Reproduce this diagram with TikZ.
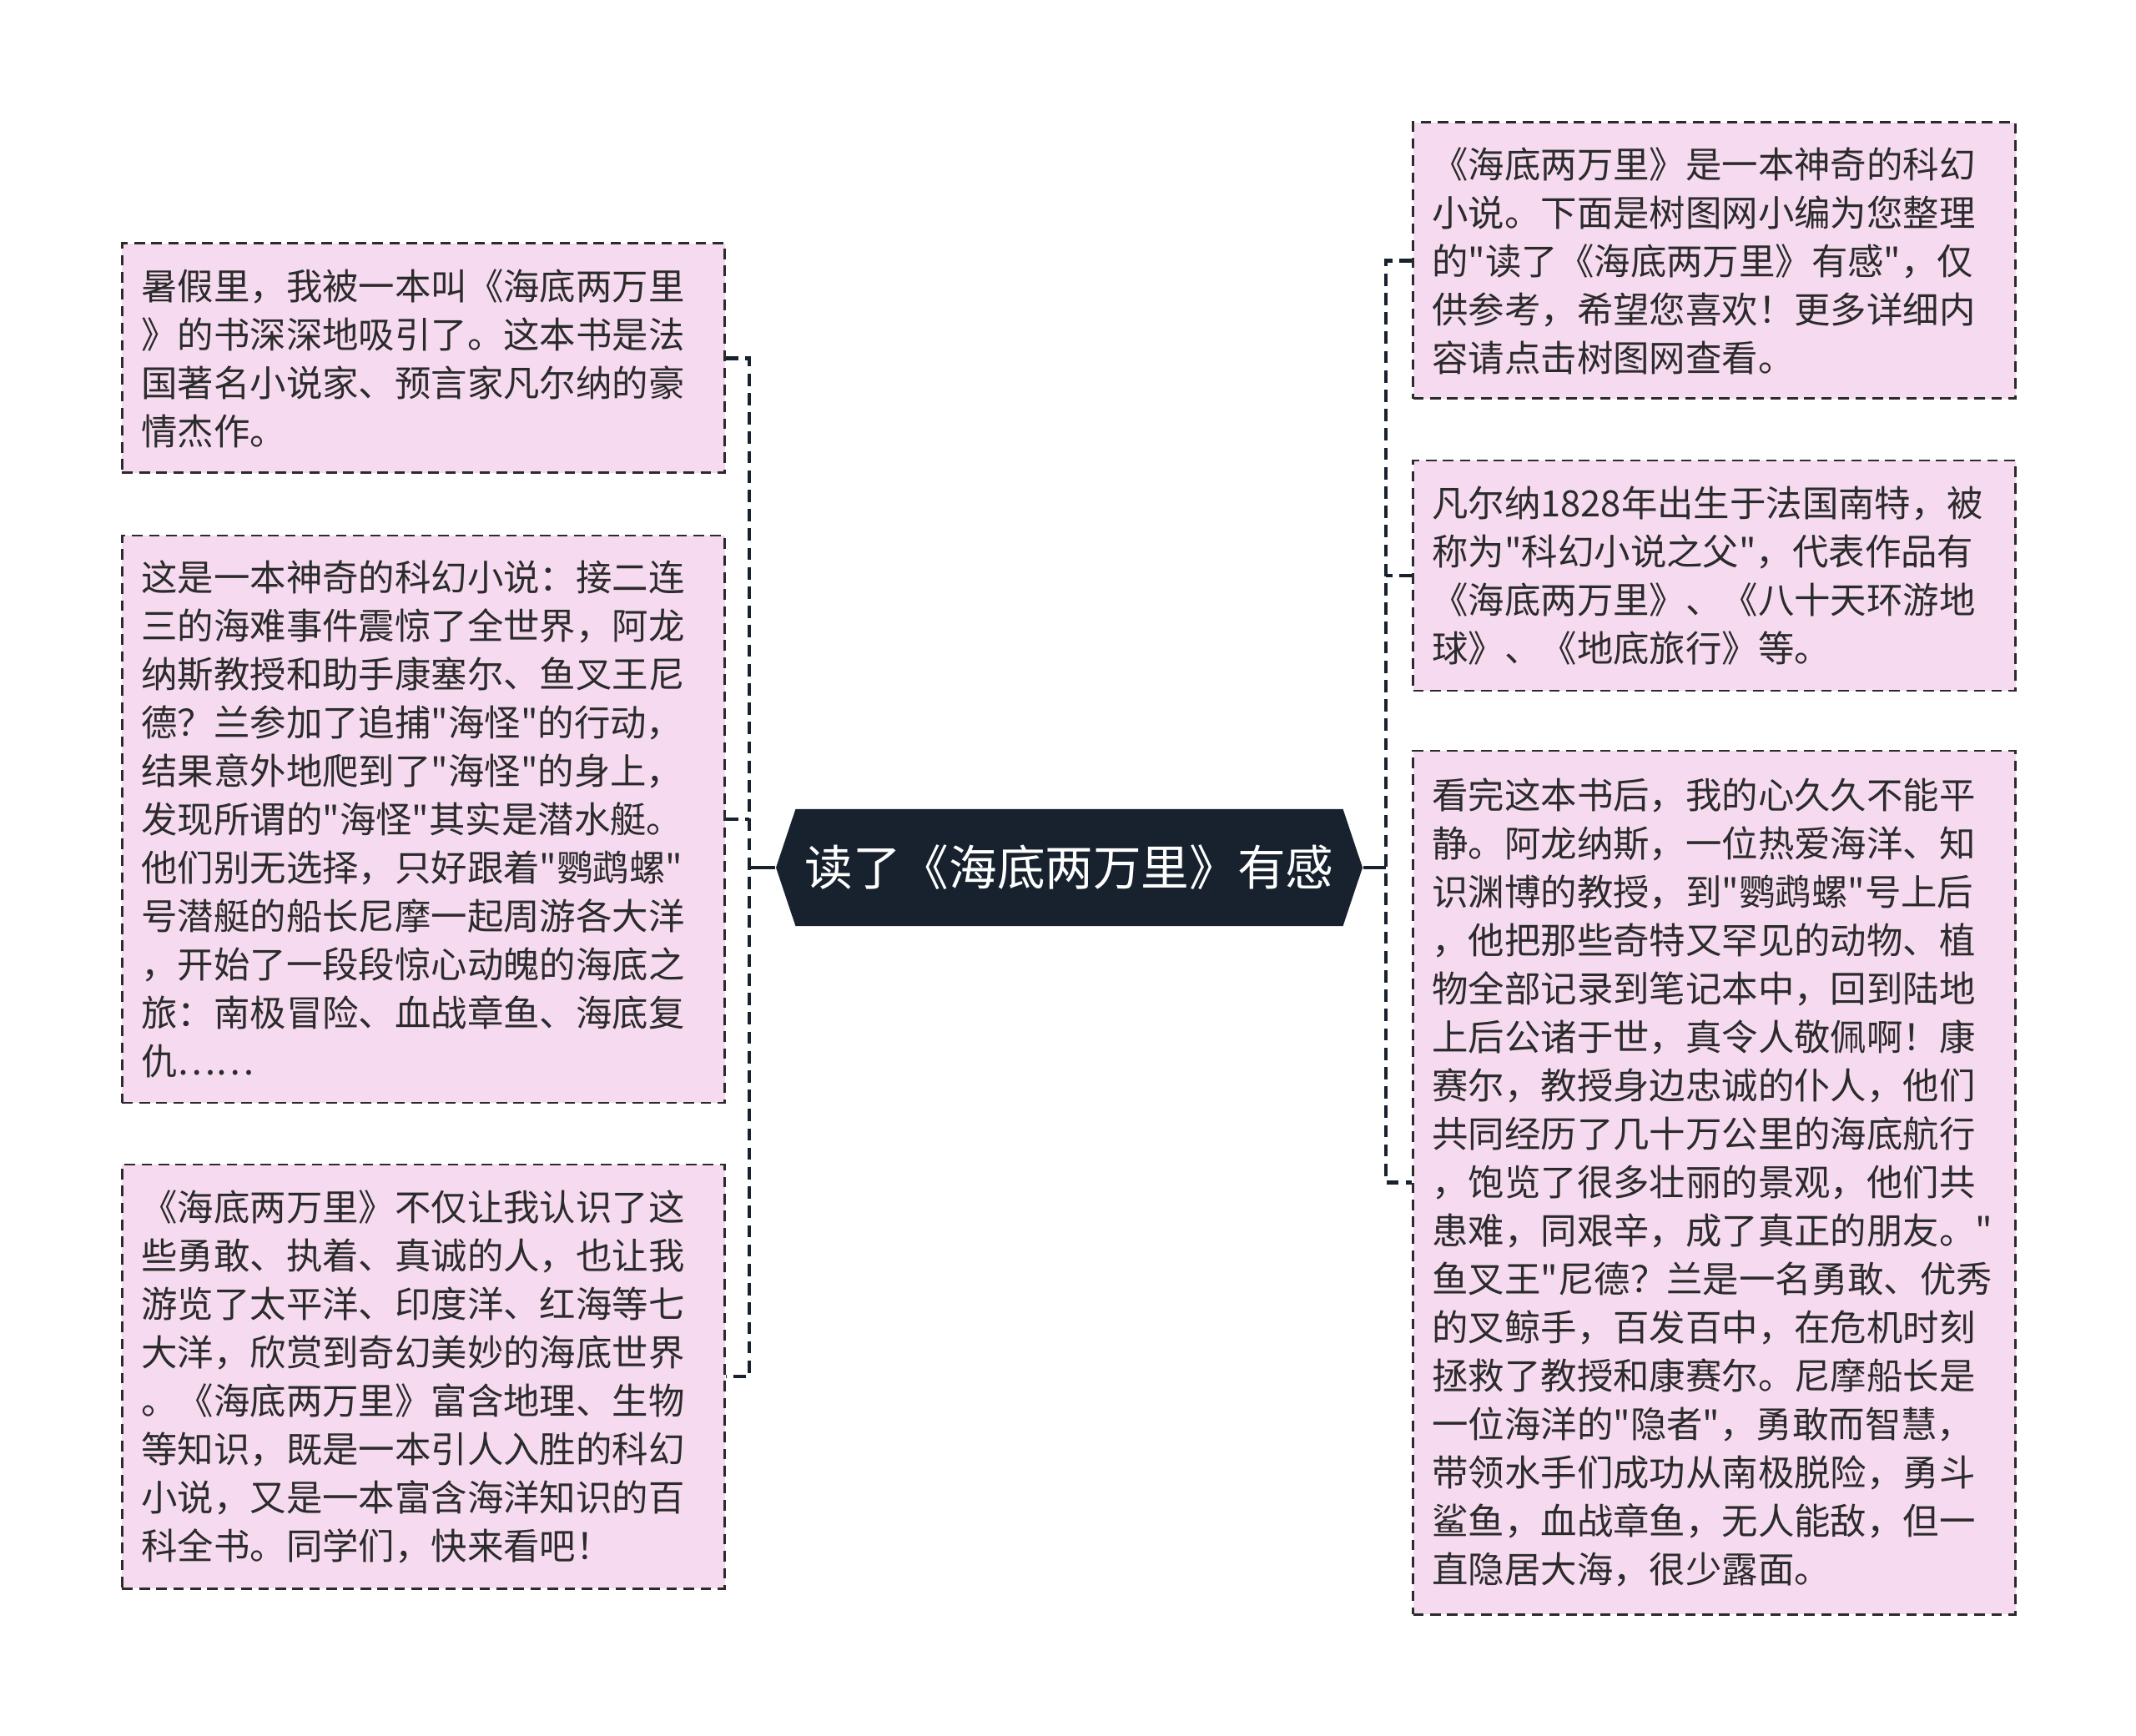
\documentclass[tikz,border=0pt]{standalone}
\usepackage{fontspec}
\usepackage{tikz}
\usetikzlibrary{shapes.symbols}
\newfontfamily\cjk{Noto Sans CJK SC}
\definecolor{navy}{HTML}{18222F}
\definecolor{pinkbox}{HTML}{F6DBF0}
\definecolor{ink}{HTML}{2B2B2B}
\tikzset{
  leaf/.style={draw=ink, fill=pinkbox, line width=0.85pt, dash pattern=on 3.6pt off 2.2pt,
    text width=6.76cm, inner xsep=0.23cm, inner ysep=0pt, align=left, anchor=west,
    text=ink, font=\cjk\fontsize{12.35pt}{16.5pt}\selectfont},
  root/.style={shape=signal, signal to=west and east, signal pointer angle=143, fill=navy,
    text=white, minimum width=7.03cm, minimum height=1.4cm, inner sep=0pt,
    font=\cjk\fontsize{16.4pt}{20pt}\selectfont},
  link/.style={navy, line width=1.4pt, dash pattern=on 4.2pt off 2.4pt},
  stem/.style={navy, line width=1.4pt}
}
\begin{document}
\begin{tikzpicture}
\useasboundingbox (0,0) rectangle (25.6,20.8);
\node[root] (root) at (12.815,10.40) {读了《海底两万里》有感};

\node[leaf, minimum height=2.75cm] (l1) at (1.45,16.505) {暑假里，我被一本叫《海底两万里\\》的书深深地吸引了。这本书是法\\国著名小说家、预言家凡尔纳的豪\\情杰作。};
\node[leaf, minimum height=6.80cm] (l2) at (1.45,10.98) {这是一本神奇的科幻小说：接二连\\三的海难事件震惊了全世界，阿龙\\纳斯教授和助手康塞尔、鱼叉王尼\\德？兰参加了追捕"海怪"的行动，\\结果意外地爬到了"海怪"的身上，\\发现所谓的"海怪"其实是潜水艇。\\他们别无选择，只好跟着"鹦鹉螺"\\号潜艇的船长尼摩一起周游各大洋\\，开始了一段段惊心动魄的海底之\\旅：南极冒险、血战章鱼、海底复\\仇……};
\node[leaf, minimum height=5.08cm] (l3) at (1.45,4.30) {《海底两万里》不仅让我认识了这\\些勇敢、执着、真诚的人，也让我\\游览了太平洋、印度洋、红海等七\\大洋，欣赏到奇幻美妙的海底世界\\。《海底两万里》富含地理、生物\\等知识，既是一本引人入胜的科幻\\小说，又是一本富含海洋知识的百\\科全书。同学们，快来看吧！};

\node[leaf, minimum height=3.31cm] (r1) at (16.92,17.675) {《海底两万里》是一本神奇的科幻\\小说。下面是树图网小编为您整理\\的"读了《海底两万里》有感"，仅\\供参考，希望您喜欢！更多详细内\\容请点击树图网查看。};
\node[leaf, minimum height=2.76cm] (r2) at (16.92,13.90) {凡尔纳1828年出生于法国南特，被\\称为"科幻小说之父"，代表作品有\\《海底两万里》、《八十天环游地\\球》、《地底旅行》等。};
\node[leaf, minimum height=10.35cm] (r3) at (16.92,6.625) {看完这本书后，我的心久久不能平\\静。阿龙纳斯，一位热爱海洋、知\\识渊博的教授，到"鹦鹉螺"号上后\\，他把那些奇特又罕见的动物、植\\物全部记录到笔记本中，回到陆地\\上后公诸于世，真令人敬佩啊！康\\赛尔，教授身边忠诚的仆人，他们\\共同经历了几十万公里的海底航行\\，饱览了很多壮丽的景观，他们共\\患难，同艰辛，成了真正的朋友。"\\鱼叉王"尼德？兰是一名勇敢、优秀\\的叉鲸手，百发百中，在危机时刻\\拯救了教授和康赛尔。尼摩船长是\\一位海洋的"隐者"，勇敢而智慧，\\带领水手们成功从南极脱险，勇斗\\鲨鱼，血战章鱼，无人能敌，但一\\直隐居大海，很少露面。};

\coordinate (lhub) at (8.98,10.40);
\coordinate (rhub) at (16.61,10.40);
\draw[stem] (root.west) -- (lhub);
\draw[stem] (root.east) -- (rhub);
\draw[link] (l1.east) -- (l1.east -| lhub) -- (l3.east -| lhub) -- (l3.east);
\draw[link] (l2.east) -- (l2.east -| lhub);
\draw[link] (r1.west) -- (r1.west -| rhub) -- (r3.west -| rhub) -- (r3.west);
\draw[link] (r2.west) -- (r2.west -| rhub);
\end{tikzpicture}
\end{document}
